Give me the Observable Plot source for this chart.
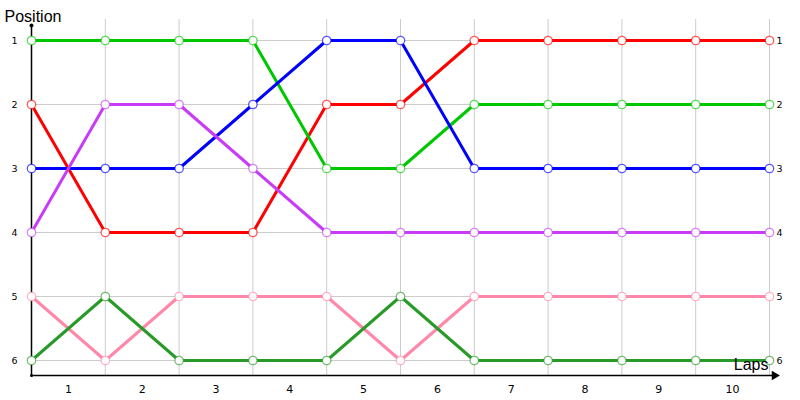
<!DOCTYPE html>
<html>
<head>
<meta charset="utf-8">
<script src="https://cdn.jsdelivr.net/npm/d3@7"></script>
<script src="https://cdn.jsdelivr.net/npm/@observablehq/plot@0.6"></script>
<style>
  html, body { margin: 0; padding: 0; background: #fff; }
  #chart svg { display: block; }
</style>
</head>
<body>
<div id="chart"></div>
<script>
const laps = [0, 1, 2, 3, 4, 5, 6, 7, 8, 9, 10];
const lapLabels = ["1", "2", "3", "4", "5", "6", "7", "8", "9", "10"];
const positions = [1, 2, 3, 4, 5, 6];

const seriesNames = ["Driver A", "Driver B", "Driver C", "Driver D", "Driver E", "Driver F"];
const seriesColors = ["#ff0000", "#00c800", "#0000ff", "#c83cf8", "#ff88aa", "#289a28"];
const driverA = [2, 4, 4, 4, 2, 2, 1, 1, 1, 1, 1];
const driverB = [1, 1, 1, 1, 3, 3, 2, 2, 2, 2, 2];
const driverC = [3, 3, 3, 2, 1, 1, 3, 3, 3, 3, 3];
const driverD = [4, 2, 2, 3, 4, 4, 4, 4, 4, 4, 4];
const driverE = [5, 6, 5, 5, 5, 6, 5, 5, 5, 5, 5];
const driverF = [6, 5, 6, 6, 6, 5, 6, 6, 6, 6, 6];
const seriesValues = [driverA, driverB, driverC, driverD, driverE, driverF];

const data = [];
seriesNames.forEach((name, i) => {
  seriesValues[i].forEach((p, j) => data.push({series: name, lap: laps[j], pos: p}));
});
const labelData = lapLabels.map((t, i) => ({t, x: (laps[i] + laps[i + 1]) / 2}));
const lastLap = laps[laps.length - 1];
const bottomPos = positions[positions.length - 1];
const tickFont = "'DejaVu Sans', Verdana, sans-serif";

const chart = Plot.plot({
  width: 800,
  height: 400,
  marginLeft: 31,
  marginRight: 31,
  marginTop: 40,
  marginBottom: 40,
  style: {fontFamily: "'Liberation Sans', Arial, sans-serif", background: "#fff"},
  x: {domain: [laps[0], lastLap], axis: null},
  y: {domain: [positions[0], bottomPos], reverse: true, axis: null},
  color: {type: "ordinal", domain: seriesNames, range: seriesColors},
  marks: [
    Plot.ruleY(positions, {stroke: "#cccccc", strokeWidth: 1}),
    Plot.ruleX(laps.slice(1), {stroke: "#cccccc", strokeWidth: 1, insetTop: -21, insetBottom: -15}),
    Plot.ruleX([laps[0]], {stroke: "#000", strokeWidth: 1.5, insetTop: -15, insetBottom: -15}),
    Plot.ruleY([bottomPos], {stroke: "#000", strokeWidth: 1.5, dy: 15, insetRight: -4}),
    Plot.dot([{x: lastLap, y: bottomPos}], {x: "x", y: "y", dx: 5, dy: 15, symbol: "triangle", rotate: 90, r: 3.5, fill: "#000", stroke: "none"}),
    Plot.dot([{x: laps[0], y: positions[0]}], {x: "x", y: "y", dy: -15, r: 2, fill: "#000"}),
    Plot.dot([{x: laps[0], y: bottomPos}], {x: "x", y: "y", dy: 15, r: 1.5, fill: "#000"}),
    Plot.line(data, {x: "lap", y: "pos", z: "series", stroke: "series", strokeWidth: 3, strokeLinejoin: "round"}),
    Plot.dot(data, {x: "lap", y: "pos", r: 4.2, fill: "#fff", stroke: "series", strokeOpacity: 0.65, strokeWidth: 1.3}),
    Plot.text(positions, {x: laps[0], y: d => d, text: d => String(d), dx: -17, fontSize: 9.5, fontFamily: tickFont, fill: "#000"}),
    Plot.text(positions, {x: lastLap, y: d => d, text: d => String(d), dx: 7, textAnchor: "start", fontSize: 9.5, fontFamily: tickFont, fill: "#000"}),
    Plot.text(labelData, {x: "x", y: bottomPos, text: "t", dy: 29, fontSize: 11, fontFamily: tickFont, fill: "#000"}),
    Plot.text(["Position"], {x: laps[0], y: positions[0], text: d => d, dx: -27, dy: -24, textAnchor: "start", fontSize: 16, fill: "#000"}),
    Plot.text(["Laps"], {x: lastLap, y: bottomPos, text: d => d, dx: -1, dy: 4, textAnchor: "end", fontSize: 16, fill: "#000"})
  ]
});
document.getElementById("chart").appendChild(chart);
</script>
</body>
</html>
